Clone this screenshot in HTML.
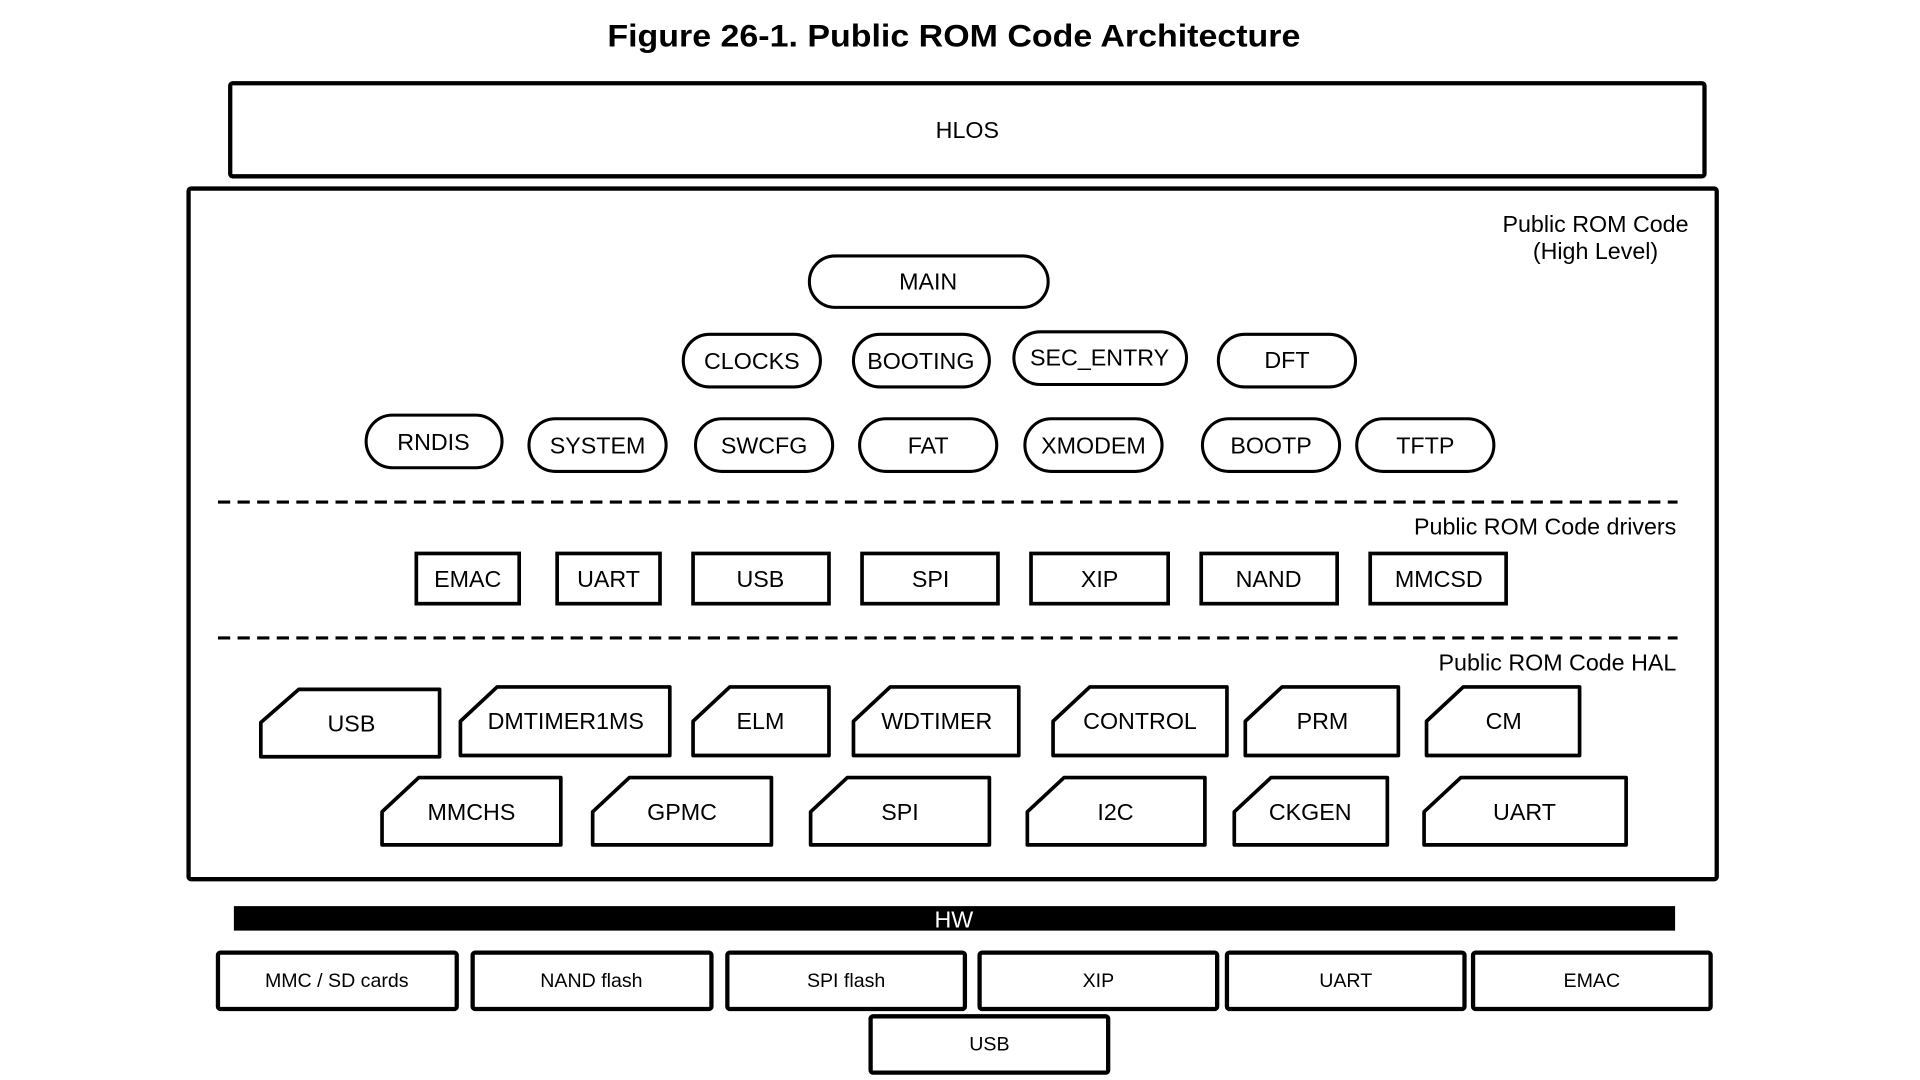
<!DOCTYPE html>
<html><head><meta charset="utf-8"><style>html,body{margin:0;padding:0;background:#fff}svg{display:block}</style></head>
<body>
<svg width="1920" height="1080" viewBox="0 0 1568 882" preserveAspectRatio="none" xmlns="http://www.w3.org/2000/svg" font-family="Liberation Sans, Arial, sans-serif">
<rect width="1568" height="882" fill="#fff"/>
<text x="779" y="38" font-size="26" font-weight="bold" text-anchor="middle" textLength="566" lengthAdjust="spacingAndGlyphs">Figure 26-1. Public ROM Code Architecture</text>
<g fill="none" stroke="#000" stroke-width="3.5">
<rect x="188" y="68" width="1204" height="76" rx="2"/>
<rect x="154" y="154" width="1248" height="564" rx="2"/>
</g>
<g font-size="19" text-anchor="middle" dominant-baseline="central">
<text x="790" y="106">HLOS</text>
<text x="1303" y="183">Public ROM Code</text>
<text x="1303" y="205">(High Level)</text>
<text x="1369" y="430" text-anchor="end">Public ROM Code drivers</text>
<text x="1369" y="541" text-anchor="end">Public ROM Code HAL</text>
</g>
<g fill="none" stroke="#000" stroke-width="2.5" stroke-dasharray="10,6">
<line x1="178" y1="410" x2="1370" y2="410"/>
<line x1="178" y1="521" x2="1370" y2="521"/>
</g>
<g fill="#fff" stroke="#000" stroke-width="2.5">
<rect x="661" y="209" width="195" height="42" rx="21"/>
<rect x="558" y="273" width="112" height="43" rx="21.5"/>
<rect x="697" y="273" width="111" height="43" rx="21.5"/>
<rect x="828" y="271" width="141" height="43" rx="21.5"/>
<rect x="995" y="273" width="112" height="43" rx="21.5"/>
<rect x="299" y="339" width="111" height="43" rx="21.5"/>
<rect x="432" y="342" width="112" height="43" rx="21.5"/>
<rect x="568" y="342" width="112" height="43" rx="21.5"/>
<rect x="702" y="342" width="112" height="43" rx="21.5"/>
<rect x="837" y="342" width="112" height="43" rx="21.5"/>
<rect x="982" y="342" width="112" height="43" rx="21.5"/>
<rect x="1108" y="342" width="112" height="43" rx="21.5"/>
</g>
<g fill="#fff" stroke="#000" stroke-width="3">
<rect x="340" y="452" width="84" height="41"/>
<rect x="455" y="452" width="84" height="41"/>
<rect x="566" y="452" width="111" height="41"/>
<rect x="704" y="452" width="111" height="41"/>
<rect x="842" y="452" width="112" height="41"/>
<rect x="981" y="452" width="111" height="41"/>
<rect x="1119" y="452" width="111" height="41"/>
</g>
<g fill="#fff" stroke="#000" stroke-width="3" stroke-linejoin="round">
<path d="M213,590 L244,563 L359,563 L359,618 L213,618 Z"/>
<path d="M376,589 L406,561 L547,561 L547,617 L376,617 Z"/>
<path d="M566,589 L596,561 L677,561 L677,617 L566,617 Z"/>
<path d="M697,589 L727,561 L832,561 L832,617 L697,617 Z"/>
<path d="M860,589 L890,561 L1002,561 L1002,617 L860,617 Z"/>
<path d="M1017,589 L1047,561 L1142,561 L1142,617 L1017,617 Z"/>
<path d="M1165,589 L1195,561 L1290,561 L1290,617 L1165,617 Z"/>
<path d="M312,663 L342,635 L458,635 L458,690 L312,690 Z"/>
<path d="M484,663 L514,635 L630,635 L630,690 L484,690 Z"/>
<path d="M662,663 L692,635 L808,635 L808,690 L662,690 Z"/>
<path d="M839,663 L869,635 L984,635 L984,690 L839,690 Z"/>
<path d="M1008,663 L1038,635 L1133,635 L1133,690 L1008,690 Z"/>
<path d="M1163,663 L1193,635 L1328,635 L1328,690 L1163,690 Z"/>
</g>
<g font-size="19" text-anchor="middle" dominant-baseline="central">
<text x="758" y="230">MAIN</text>
<text x="614" y="295">CLOCKS</text>
<text x="752" y="295">BOOTING</text>
<text x="898" y="292">SEC_ENTRY</text>
<text x="1051" y="294">DFT</text>
<text x="354" y="361">RNDIS</text>
<text x="488" y="364">SYSTEM</text>
<text x="624" y="364">SWCFG</text>
<text x="758" y="364">FAT</text>
<text x="893" y="364">XMODEM</text>
<text x="1038" y="364">BOOTP</text>
<text x="1164" y="364">TFTP</text>
<text x="382" y="473">EMAC</text>
<text x="497" y="473">UART</text>
<text x="621" y="473">USB</text>
<text x="760" y="473">SPI</text>
<text x="898" y="473">XIP</text>
<text x="1036" y="473">NAND</text>
<text x="1175" y="473">MMCSD</text>
<text x="287" y="591">USB</text>
<text x="462" y="589">DMTIMER1MS</text>
<text x="621" y="589">ELM</text>
<text x="765" y="589">WDTIMER</text>
<text x="931" y="589">CONTROL</text>
<text x="1080" y="589">PRM</text>
<text x="1228" y="589">CM</text>
<text x="385" y="663">MMCHS</text>
<text x="557" y="663">GPMC</text>
<text x="735" y="663">SPI</text>
<text x="911" y="663">I2C</text>
<text x="1070" y="663">CKGEN</text>
<text x="1245" y="663">UART</text>
</g>
<rect x="191" y="740" width="1177" height="20" fill="#000"/>
<text x="779" y="751" font-size="19" fill="#fff" text-anchor="middle" dominant-baseline="central">HW</text>
<g fill="#fff" stroke="#000" stroke-width="3.5">
<rect x="178" y="778" width="195" height="46" rx="2"/>
<rect x="386" y="778" width="195" height="46" rx="2"/>
<rect x="594" y="778" width="194" height="46" rx="2"/>
<rect x="800" y="778" width="194" height="46" rx="2"/>
<rect x="1002" y="778" width="194" height="46" rx="2"/>
<rect x="1203" y="778" width="194" height="46" rx="2"/>
<rect x="711" y="830" width="194" height="46" rx="2"/>
</g>
<g font-size="16" text-anchor="middle" dominant-baseline="central">
<text x="275" y="801">MMC / SD cards</text>
<text x="483" y="801">NAND flash</text>
<text x="691" y="801">SPI flash</text>
<text x="897" y="801">XIP</text>
<text x="1099" y="801">UART</text>
<text x="1300" y="801">EMAC</text>
<text x="808" y="853">USB</text>
</g>
</svg>
</body></html>
